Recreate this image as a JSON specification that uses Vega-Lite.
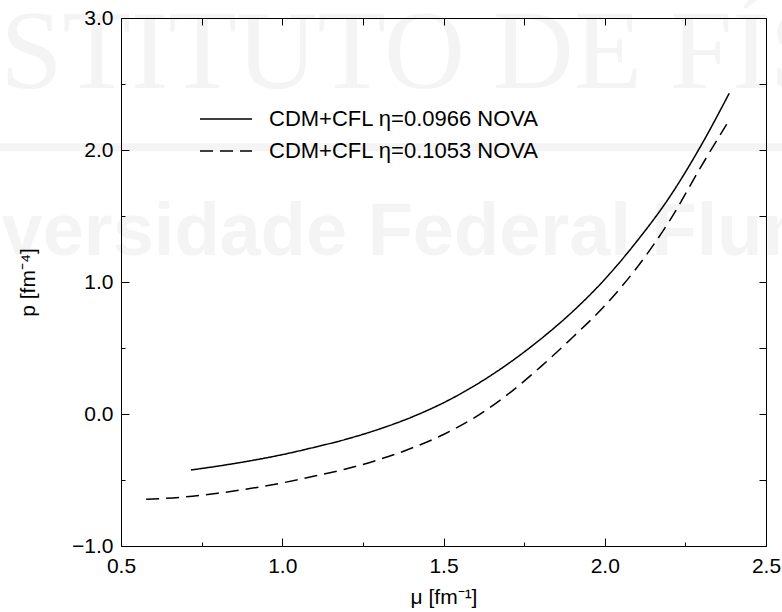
{
  "$schema": "https://vega.github.io/schema/vega-lite/v6.json",
  "width": 645,
  "height": 528,
  "autosize": {"type": "none"},
  "padding": {"left": 121, "top": 18, "right": 16, "bottom": 66},
  "background": "white",
  "config": {
    "view": {"stroke": null},
    "font": "Liberation Sans",
    "axis": {
      "labelFont": "Liberation Sans",
      "titleFont": "Liberation Sans",
      "labelFontSize": 21,
      "titleFontSize": 21,
      "titleFontWeight": "normal",
      "labelColor": "black",
      "titleColor": "black",
      "domainColor": "black",
      "tickColor": "black",
      "domainWidth": 1,
      "tickWidth": 1,
      "grid": false
    }
  },
  "datasets": {
    "curves": [
      {"mu": 0.717, "p": -0.424, "s": "CDM+CFL η=0.0966 NOVA"},
      {"mu": 0.8, "p": -0.395, "s": "CDM+CFL η=0.0966 NOVA"},
      {"mu": 0.9, "p": -0.355, "s": "CDM+CFL η=0.0966 NOVA"},
      {"mu": 1.0, "p": -0.308, "s": "CDM+CFL η=0.0966 NOVA"},
      {"mu": 1.1, "p": -0.252, "s": "CDM+CFL η=0.0966 NOVA"},
      {"mu": 1.2, "p": -0.19, "s": "CDM+CFL η=0.0966 NOVA"},
      {"mu": 1.3, "p": -0.115, "s": "CDM+CFL η=0.0966 NOVA"},
      {"mu": 1.4, "p": -0.025, "s": "CDM+CFL η=0.0966 NOVA"},
      {"mu": 1.5, "p": 0.085, "s": "CDM+CFL η=0.0966 NOVA"},
      {"mu": 1.6, "p": 0.22, "s": "CDM+CFL η=0.0966 NOVA"},
      {"mu": 1.7, "p": 0.38, "s": "CDM+CFL η=0.0966 NOVA"},
      {"mu": 1.8, "p": 0.565, "s": "CDM+CFL η=0.0966 NOVA"},
      {"mu": 1.9, "p": 0.775, "s": "CDM+CFL η=0.0966 NOVA"},
      {"mu": 2.0, "p": 1.02, "s": "CDM+CFL η=0.0966 NOVA"},
      {"mu": 2.1, "p": 1.31, "s": "CDM+CFL η=0.0966 NOVA"},
      {"mu": 2.2, "p": 1.64, "s": "CDM+CFL η=0.0966 NOVA"},
      {"mu": 2.3, "p": 2.04, "s": "CDM+CFL η=0.0966 NOVA"},
      {"mu": 2.386, "p": 2.43, "s": "CDM+CFL η=0.0966 NOVA"},
      {"mu": 0.578, "p": -0.646, "s": "CDM+CFL η=0.1053 NOVA"},
      {"mu": 0.7, "p": -0.628, "s": "CDM+CFL η=0.1053 NOVA"},
      {"mu": 0.8, "p": -0.600, "s": "CDM+CFL η=0.1053 NOVA"},
      {"mu": 0.9, "p": -0.565, "s": "CDM+CFL η=0.1053 NOVA"},
      {"mu": 1.0, "p": -0.522, "s": "CDM+CFL η=0.1053 NOVA"},
      {"mu": 1.1, "p": -0.470, "s": "CDM+CFL η=0.1053 NOVA"},
      {"mu": 1.2, "p": -0.415, "s": "CDM+CFL η=0.1053 NOVA"},
      {"mu": 1.3, "p": -0.345, "s": "CDM+CFL η=0.1053 NOVA"},
      {"mu": 1.4, "p": -0.260, "s": "CDM+CFL η=0.1053 NOVA"},
      {"mu": 1.5, "p": -0.155, "s": "CDM+CFL η=0.1053 NOVA"},
      {"mu": 1.6, "p": -0.022, "s": "CDM+CFL η=0.1053 NOVA"},
      {"mu": 1.7, "p": 0.150, "s": "CDM+CFL η=0.1053 NOVA"},
      {"mu": 1.8, "p": 0.355, "s": "CDM+CFL η=0.1053 NOVA"},
      {"mu": 1.9, "p": 0.580, "s": "CDM+CFL η=0.1053 NOVA"},
      {"mu": 2.0, "p": 0.820, "s": "CDM+CFL η=0.1053 NOVA"},
      {"mu": 2.1, "p": 1.110, "s": "CDM+CFL η=0.1053 NOVA"},
      {"mu": 2.2, "p": 1.460, "s": "CDM+CFL η=0.1053 NOVA"},
      {"mu": 2.3, "p": 1.880, "s": "CDM+CFL η=0.1053 NOVA"},
      {"mu": 2.378, "p": 2.195, "s": "CDM+CFL η=0.1053 NOVA"}
    ],
    "watermark": [
      {"t": "INSTITUTO DE FÍSICA", "kind": "serif", "x": -0.241, "y": 2.47},
      {"t": "Universidade Federal Fluminense", "kind": "sans", "x": -0.24, "y": 1.205}
    ],
    "band": [{"x1": -0.5, "x2": 3.0, "y": 2.02}]
  },
  "resolve": {"axis": {"x": "independent", "y": "independent"}},
  "layer": [
    {
      "data": {"name": "band"},
      "mark": {"type": "rule", "color": "#f4f4f4", "strokeWidth": 8, "clip": false},
      "encoding": {
        "x": {"field": "x1", "type": "quantitative", "axis": null},
        "x2": {"field": "x2"},
        "y": {"field": "y", "type": "quantitative", "axis": null}
      }
    },
    {
      "data": {"name": "watermark"},
      "transform": [{"filter": "datum.kind === 'serif'"}],
      "mark": {"type": "text", "font": "Liberation Serif", "fontSize": 112, "align": "left", "baseline": "alphabetic", "color": "#f4f4f4", "clip": false},
      "encoding": {
        "x": {"field": "x", "type": "quantitative", "axis": null},
        "y": {"field": "y", "type": "quantitative", "axis": null},
        "text": {"field": "t"}
      }
    },
    {
      "data": {"name": "watermark"},
      "transform": [{"filter": "datum.kind === 'sans'"}],
      "mark": {"type": "text", "font": "Liberation Sans", "fontWeight": "bold", "fontSize": 74, "align": "left", "baseline": "alphabetic", "color": "#f4f4f4", "clip": false},
      "encoding": {
        "x": {"field": "x", "type": "quantitative", "axis": null},
        "y": {"field": "y", "type": "quantitative", "axis": null},
        "text": {"field": "t"}
      }
    },
    {
      "data": {"name": "curves"},
      "mark": {"type": "line", "color": "black", "strokeWidth": 1.5, "interpolate": "monotone", "clip": true},
      "encoding": {
        "x": {
          "field": "mu", "type": "quantitative",
          "scale": {"domain": [0.5, 2.5], "nice": false, "zero": false},
          "axis": {"orient": "bottom", "values": [0.5, 1.0, 1.5, 2.0, 2.5], "format": ".1f", "tickSize": -8, "labelPadding": 17, "title": "μ [fm⁻¹]", "titlePadding": 10, "labelFlush": false, "zindex": 2}
        },
        "y": {
          "field": "p", "type": "quantitative",
          "scale": {"domain": [-1, 3], "nice": false, "zero": false},
          "axis": {"orient": "left", "values": [-1, 0, 1, 2, 3], "format": ".1f", "tickSize": -8, "labelPadding": 16, "title": "p [fm⁻⁴]", "titlePadding": 33, "labelFlush": false, "zindex": 2}
        },
        "strokeDash": {
          "field": "s", "type": "nominal",
          "scale": {"domain": ["CDM+CFL η=0.0966 NOVA", "CDM+CFL η=0.1053 NOVA"], "range": [[1, 0], [13, 7]]},
          "legend": {
            "title": null, "orient": "none", "legendX": 94, "legendY": 90, "padding": 0,
            "symbolType": "M-4,0H4", "symbolSize": 169, "symbolStrokeWidth": 1.5, "symbolStrokeColor": "black",
            "labelFont": "Liberation Sans", "labelFontSize": 22, "labelColor": "black", "labelOffset": 32, "labelLimit": 500, "rowPadding": 10, "zindex": 2
          }
        }
      }
    },
    {
      "mark": {"type": "point", "opacity": 0},
      "encoding": {
        "x": {"datum": 1, "type": "quantitative", "axis": {"orient": "bottom", "values": [0.75, 1.25, 1.75, 2.25], "tickSize": -4, "labels": false, "domain": false, "title": null, "zindex": 2}},
        "y": {"datum": 0, "type": "quantitative", "axis": {"orient": "left", "values": [-0.5, 0.5, 1.5, 2.5], "tickSize": -4, "labels": false, "domain": false, "title": null, "zindex": 2}}
      }
    },
    {
      "mark": {"type": "point", "opacity": 0},
      "encoding": {
        "x": {"datum": 1, "type": "quantitative", "axis": {"orient": "top", "values": [0.5, 0.75, 1.0, 1.25, 1.5, 1.75, 2.0, 2.25, 2.5], "tickSize": -7, "labels": false, "domain": true, "title": null, "zindex": 2}},
        "y": {"datum": 0, "type": "quantitative", "axis": {"orient": "right", "values": [-1, -0.5, 0, 0.5, 1, 1.5, 2, 2.5, 3], "tickSize": -7, "labels": false, "domain": true, "title": null, "zindex": 2}}
      }
    }
  ]
}
